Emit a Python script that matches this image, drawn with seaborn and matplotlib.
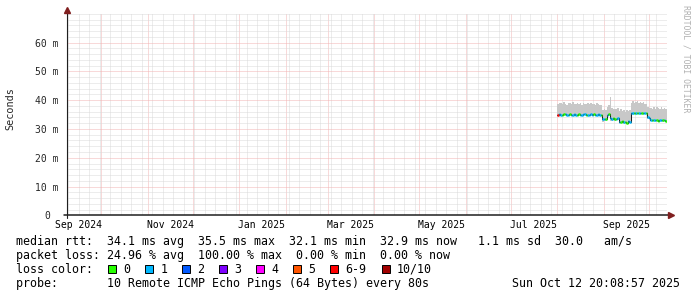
import numpy as np
import pandas as pd
import matplotlib
matplotlib.use("Agg")
import matplotlib.pyplot as plt
import matplotlib.dates as mdates
import matplotlib.transforms as mtransforms
from matplotlib.ticker import MultipleLocator, FixedLocator
from matplotlib.patches import Rectangle
import seaborn as sns

# ---------------- data ----------------
first_day = "2025-08-01"
median_ms = [35.0, 35.1, 35.0, 35.0, 35.1, 35.1, 35.0, 35.0, 35.1, 35.0,
             35.0, 35.1, 35.0, 35.0, 35.1, 35.0, 35.0, 35.1, 35.1, 35.0,
             35.0, 35.0, 35.1, 35.0, 35.1, 35.0, 35.0, 35.1, 35.0, 35.0,
             33.3, 33.4, 33.3,
             35.0, 35.1,
             33.7, 33.6, 33.7, 33.5, 33.6, 33.7,
             32.6, 32.4, 32.8, 32.3, 32.5, 32.1, 32.7, 32.6,
             35.5, 35.4, 35.5, 35.4, 35.5, 35.5, 35.4, 35.5, 35.4, 35.5, 35.5,
             34.0, 33.9,
             33.1, 33.0, 33.2, 33.0, 33.1, 32.9, 33.1, 33.0, 33.0, 33.1, 32.9]
smoke_hi_ms = [38.6, 39.2, 38.9, 38.7, 39.4, 38.8, 38.5, 39.0, 38.9, 38.6,
               39.3, 38.8, 38.7, 39.1, 38.6, 38.9, 38.5, 39.0, 38.8, 38.6,
               38.9, 38.7, 39.2, 38.8, 38.6, 38.4, 38.9, 38.7, 38.5, 38.3,
               36.6, 36.9, 36.5,
               37.8, 38.2,
               41.0, 37.2, 36.9, 37.0, 36.8, 37.3,
               36.4, 36.8, 36.2, 36.5, 36.0, 36.6, 36.3, 36.7,
               39.2, 39.6, 39.0, 39.4, 39.8, 39.1, 39.5, 38.9, 39.3, 38.8, 38.6,
               37.6, 37.2,
               37.4, 37.0, 37.6, 37.1, 37.8, 37.2, 36.9, 37.5, 37.0, 37.3, 36.8]
smoke_lo_ms = [34.7, 34.8, 34.7, 34.7, 34.8, 34.8, 34.7, 34.7, 34.8, 34.7,
               34.7, 34.8, 34.7, 34.7, 34.8, 34.7, 34.7, 34.8, 34.8, 34.7,
               34.7, 34.7, 34.8, 34.7, 34.8, 34.7, 34.7, 34.8, 34.7, 34.7,
               32.6, 32.8, 32.9,
               34.6, 34.7,
               32.9, 32.8, 33.0, 32.9, 33.1, 33.2,
               32.2, 32.0, 32.3, 31.9, 32.1, 31.8, 32.3, 32.2,
               35.1, 35.0, 35.1, 35.0, 35.1, 35.1, 35.0, 35.1, 35.0, 35.1, 35.1,
               33.5, 33.5,
               32.7, 32.6, 32.8, 32.6, 32.7, 32.5, 32.7, 32.6, 32.6, 32.7, 32.5]
loss_class = [6,
              1, 1, 0, 0, 1, 1, 1, 0, 1, 1, 1, 1, 0, 0, 1, 1, 1, 1, 0, 1, 1, 1, 1, 0, 1, 1, 1, 1, 0,
              1, 1, 0,
              1, 0,
              1, 1, 0, 0, 1, 1,
              1, 0, 0, 1, 0, 0, 1, 1,
              1, 1, 0, 1, 0, 1, 1, 0, 1, 1, 0,
              1, 1,
              1, 0, 1, 1, 0, 0, 1, 1, 0, 1, 0]
loss_labels = ["0", "1", "2", "3", "4", "5", "6-9", "10/10"]
loss_colors = ["#26ff00", "#00b8ff", "#0059ff", "#7e00ff", "#ff00ff", "#ff5500", "#ff0000", "#a10000"]
y_ticks = [0, 10, 20, 30, 40, 50, 60]
y_tick_labels = ["0", "10 m", "20 m", "30 m", "40 m", "50 m", "60 m"]
x_label_dates = ["2024-09-16", "2024-11-16", "2025-01-16", "2025-03-16",
                 "2025-05-16", "2025-07-16", "2025-09-16"]
x_label_texts = ["Sep 2024", "Nov 2024", "Jan 2025", "Mar 2025",
                 "May 2025", "Jul 2025", "Sep 2025"]
x_start = "2024-09-07 20:08:57"
x_end = "2025-10-12 20:08:57"
row_median = "median rtt:  34.1 ms avg  35.5 ms max  32.1 ms min  32.9 ms now   1.1 ms sd  30.0   am/s"
row_loss = "packet loss: 24.96 % avg  100.00 % max  0.00 % min  0.00 % now"
row_color = "loss color:"
row_probe = "probe:       10 Remote ICMP Echo Pings (64 Bytes) every 80s"
stamp = "Sun Oct 12 20:08:57 2025"
y_title = "Seconds"
watermark = "RRDTOOL / TOBI OETIKER"

# ---------------- figure ----------------
W, H = 697, 297
def fx(p): return p / W
def fy(p): return 1 - p / H

sns.set_style("white")
plt.rcParams["font.family"] = ["DejaVu Sans Mono", "DejaVu Sans"]
fig = plt.figure(figsize=(W / 100, H / 100), dpi=100)
fig.patch.set_facecolor("white")
ax_l, ax_r, ax_b, ax_t = 66.5, 666.5, 215.3, 13.5
ax = fig.add_axes([fx(ax_l), fy(ax_b), (ax_r - ax_l) / W, (ax_b - ax_t) / H])
ax.set_facecolor("white")

n = len(median_ms)
t = pd.date_range(first_day, periods=n + 1, freq="D")
med_ext = median_ms + [median_ms[-1]]
hi_ext = smoke_hi_ms + [smoke_hi_ms[-1]]
lo_ext = smoke_lo_ms + [smoke_lo_ms[-1]]

# smoke
ax.fill_between(t, lo_ext, hi_ext, step="post", color="#c8c8c8", lw=0, zorder=2)

# dark median connector
sns.lineplot(x=t, y=med_ext, drawstyle="steps-post", color="#202020", lw=0.75,
             ax=ax, zorder=3, estimator=None)

# loss-coloured median band
rows = []
for i in range(n):
    lab = loss_labels[loss_class[i]]
    rows.append({"t": t[i], "ms": median_ms[i], "cls": lab, "day": i})
    rows.append({"t": t[i + 1], "ms": median_ms[i], "cls": lab, "day": i})
band = pd.DataFrame(rows)
sns.lineplot(data=band, x="t", y="ms", hue="cls", units="day", estimator=None,
             palette=dict(zip(loss_labels, loss_colors)), lw=1.8, legend=False,
             sort=False, ax=ax, zorder=4, solid_capstyle="butt")

# scales
ax.set_xlim(pd.Timestamp(x_start), pd.Timestamp(x_end))
ax.set_ylim(0, 70.14)
for s in ax.spines.values():
    s.set_visible(False)
ax.set_xlabel("")
ax.set_ylabel("")

ax.xaxis.set_major_locator(mdates.MonthLocator())
ax.xaxis.set_minor_locator(mdates.WeekdayLocator(byweekday=mdates.MO))
ax.yaxis.set_major_locator(FixedLocator(y_ticks))
ax.yaxis.set_minor_locator(MultipleLocator(2))
ax.set_yticklabels(y_tick_labels)
ax.tick_params(axis="x", which="major", length=2, width=0.7, color="#1f1f1f",
               labelbottom=False, direction="out")
ax.tick_params(axis="y", which="major", length=2, width=0.7, color="#1f1f1f",
               labelsize=7, pad=11.9, direction="out")
ax.tick_params(which="minor", length=0)
for lbl in ax.get_yticklabels():
    lbl.set_ha("center")
    lbl.set_family("DejaVu Sans Mono")

ax.set_axisbelow(True)
ax.grid(which="minor", color="#dadada", ls=(0, (1, 1)), lw=0.72)
ax.grid(which="major", color="#f2b4b4", ls=(0, (1, 1)), lw=0.72)

# x labels (centred within their month)
blend = mtransforms.blended_transform_factory(ax.transData, fig.transFigure)
for d, txt in zip(x_label_dates, x_label_texts):
    ax.text(mdates.date2num(pd.Timestamp(d)), fy(228.3), txt, transform=blend,
            ha="center", va="baseline", fontsize=7, family="DejaVu Sans Mono",
            color="#000000")

# axes lines and arrows
ft = fig.transFigure
fig.add_artist(plt.Line2D([fx(64), fx(670)], [fy(215.3), fy(215.3)], color="#1f1f1f", lw=1.1, transform=ft))
fig.add_artist(plt.Line2D([fx(66.5), fx(66.5)], [fy(217.5), fy(11)], color="#1f1f1f", lw=0.8, transform=ft))
fig.add_artist(plt.Line2D([fx(671)], [fy(215.3)], marker=">", ms=4.5, color="#801f1f", lw=0, transform=ft))
fig.add_artist(plt.Line2D([fx(66.5)], [fy(10)], marker="^", ms=4.5, color="#801f1f", lw=0, transform=ft))

# titles
fig.text(fx(10.8), fy(109), y_title, rotation=90, ha="center", va="center",
         fontsize=7.3, family="DejaVu Sans Mono")
fig.text(fx(686), fy(5), watermark, rotation=270, ha="center", va="top",
         fontsize=5.9, family="DejaVu Sans Mono", color="#b0b0b0")

# legend rows
lf = dict(fontsize=8.4, family="DejaVu Sans Mono", va="baseline", color="#000000")
fig.text(fx(16), fy(245.2), row_median, **lf)
fig.text(fx(16), fy(259.1), row_loss, **lf)
fig.text(fx(16), fy(273.0), row_color, **lf)
fig.text(fx(16), fy(286.9), row_probe, **lf)
fig.text(fx(680.5), fy(286.9), stamp, ha="right", **lf)

sw_x = [108.3, 145.3, 182.3, 219.3, 256.3, 293.3, 330.3, 381.5]
for x0, lab, col in zip(sw_x, loss_labels, loss_colors):
    fig.add_artist(Rectangle((fx(x0), fy(273.3)), 8 / W, 8 / H, transform=ft,
                             facecolor=col, edgecolor="#000000", lw=0.7))
    fig.text(fx(x0 + 15), fy(273.0), lab, **lf)

fig.savefig("out.png", dpi=100, facecolor="white")
